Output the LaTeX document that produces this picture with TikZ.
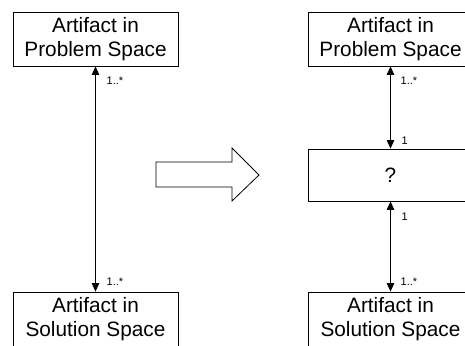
\documentclass[tikz,border=0pt]{standalone}
\usepackage{fontspec}
\setmainfont{Liberation Sans}
\usetikzlibrary{arrows.meta}

\begin{document}
\begin{tikzpicture}[x=1pt,y=-1pt,
    artifact/.style={draw,line width=0.8pt,minimum width=165pt,minimum height=54pt,
      inner sep=0pt,align=center,font=\fontsize{20.8}{24}\selectfont},
    assoc/.style={{Triangle[length=8.5pt,width=7.5pt]}-{Triangle[length=8.5pt,width=7.5pt]},line width=0.8pt},
    mult/.style={anchor=west,inner sep=0pt,font=\fontsize{11}{13}\selectfont}]
  \useasboundingbox (0,0) rectangle (465,345);
  \node[artifact] (probl) at (95.5,39) {Artifact in\\Problem Space};
  \node[artifact] (soll) at (95.5,319) {Artifact in\\Solution Space};
  \node[artifact] (probr) at (390.5,39) {Artifact in\\Problem Space};
  \node[artifact,minimum height=52pt] (link) at (390.5,175) {?};
  \node[artifact] (solr) at (390.5,319) {Artifact in\\Solution Space};
  \draw[assoc] (probl) -- (soll);
  \draw[assoc] (probr) -- (link);
  \draw[assoc] (link) -- (solr);
  \node[mult] (m1) at ([xshift=11pt,yshift=-14pt]probl.south) {1..*};
  \node[mult] (m2) at ([xshift=11pt,yshift=10pt]soll.north) {1..*};
  \node[mult] (m3) at ([xshift=10pt,yshift=-14pt]probr.south) {1..*};
  \node[mult] (m4) at ([xshift=11pt,yshift=8pt]link.north) {1};
  \node[mult] (m5) at ([xshift=11pt,yshift=-15pt]link.south) {1};
  \node[mult] (m6) at ([xshift=10pt,yshift=10pt]solr.north) {1..*};
  \draw[line width=0.8pt,fill=white] (156,162) -- (232,162) -- (232,148) -- (259,175)
    -- (232,201) -- (232,187) -- (156,187) -- cycle;
\end{tikzpicture}
\end{document}
